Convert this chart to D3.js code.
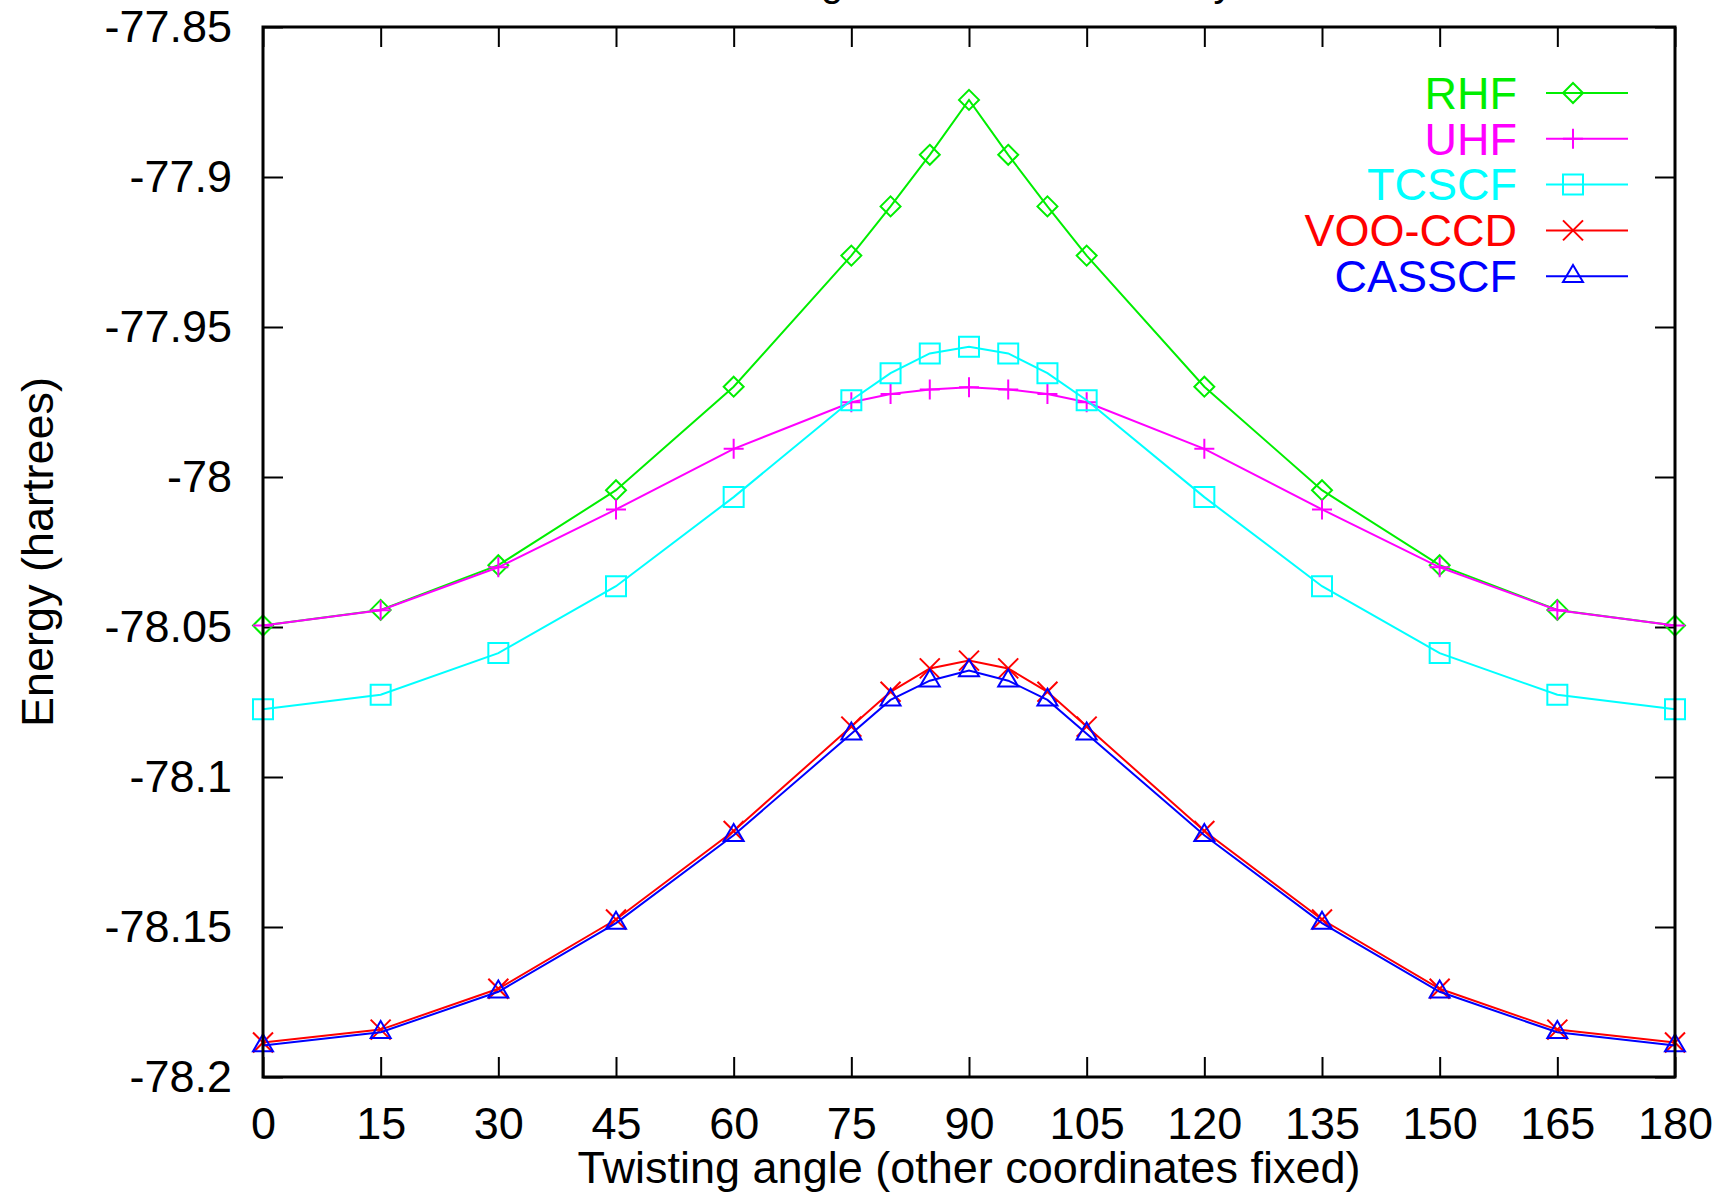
<!DOCTYPE html>
<html>
<head>
<meta charset="utf-8">
<script src="https://cdn.jsdelivr.net/npm/d3@7"></script>
<style>
  html, body { margin: 0; padding: 0; background: #fff; }
  svg { display: block; font-family: "Liberation Sans", Arial, sans-serif; }
</style>
</head>
<body>
<svg id="chart" width="1720" height="1195"></svg>
<script>
// twisting angle (degrees)
const angles = [0, 15, 30, 45, 60, 75, 80, 85, 90, 95, 100, 105, 120, 135, 150, 165, 180];

// energies in hartrees
const rhf   = [-78.0495, -78.0443, -78.0294, -78.0044, -77.9699, -77.9262, -77.9098, -77.8926, -77.8743,
               -77.8926, -77.9098, -77.9262, -77.9699, -78.0044, -78.0294, -78.0443, -78.0495];
const uhf   = [-78.0495, -78.0444, -78.0301, -78.0108, -77.9906, -77.9751, -77.9723, -77.9708, -77.9701,
               -77.9708, -77.9723, -77.9751, -77.9906, -78.0108, -78.0301, -78.0444, -78.0495];
const tcscf = [-78.0774, -78.0726, -78.0587, -78.0364, -78.0067, -77.9744, -77.9654, -77.9588, -77.9566,
               -77.9588, -77.9654, -77.9744, -78.0067, -78.0364, -78.0587, -78.0726, -78.0774];
const vooccd = [-78.1885, -78.1842, -78.1706, -78.1475, -78.1180, -78.0832, -78.0716, -78.0638, -78.0612,
                -78.0638, -78.0716, -78.0832, -78.1180, -78.1475, -78.1706, -78.1842, -78.1885];
const casscf = [-78.1895, -78.1851, -78.1716, -78.1487, -78.1194, -78.0856, -78.0743, -78.0679, -78.0645,
                -78.0679, -78.0743, -78.0856, -78.1194, -78.1487, -78.1716, -78.1851, -78.1895];

const seriesNames = ["RHF", "UHF", "TCSCF", "VOO-CCD", "CASSCF"];
const seriesColors = ["#00ee00", "#ff00ff", "#00ffff", "#ff0000", "#0000ff"];
const seriesMarkers = ["diamond", "plus", "square", "cross", "triangle"];

const xTicks = [0, 15, 30, 45, 60, 75, 90, 105, 120, 135, 150, 165, 180];
const yTicks = [-78.2, -78.15, -78.1, -78.05, -78, -77.95, -77.9, -77.85];
const yTickLabels = ["-78.2", "-78.15", "-78.1", "-78.05", "-78", "-77.95", "-77.9", "-77.85"];

const W = 1720, H = 1195;
const margin = {left: 263, right: 45, top: 27, bottom: 118};
const fontSize = 45;

const svg = d3.select('#chart');

const x = d3.scaleLinear().domain([0, 180]).range([margin.left, W - margin.right]);
const y = d3.scaleLinear().domain([-78.2, -77.85]).range([H - margin.bottom, margin.top]);

// marker shapes, s = half size
function markerPath(type, s) {
    switch (type) {
        case 'diamond': return `M0,${-s}L${s},0L0,${s}L${-s},0Z`;
        case 'plus': return `M${-s},0H${s}M0,${-s}V${s}`;
        case 'square': return `M${-s},${-s}H${s}V${s}H${-s}Z`;
        case 'cross': return `M${-s},${-s}L${s},${s}M${-s},${s}L${s},${-s}`;
        case 'triangle': return `M0,${-s * 1.13}L${s},${s * 0.57}L${-s},${s * 0.57}Z`;
    }
}

// title (the reference shows it cut off at the top of the page)
svg.append('text')
    .attr('x', 1004)
    .attr('y', -4)
    .attr('text-anchor', 'middle')
    .style('font-size', '40px')
    .text('Twisting the C=C bond of ethylene');

// axes: ticks drawn inward on all four sides
const xBottom = svg.append('g')
    .attr('transform', `translate(0,${H - margin.bottom})`)
    .call(d3.axisBottom(x).tickValues(xTicks).tickSize(-20).tickPadding(30).tickFormat(d3.format('d')));
const xTop = svg.append('g')
    .attr('transform', `translate(0,${margin.top})`)
    .call(d3.axisTop(x).tickValues(xTicks).tickSize(-20).tickFormat(''));
const yLeft = svg.append('g')
    .attr('transform', `translate(${margin.left},0)`)
    .call(d3.axisLeft(y).tickValues(yTicks).tickSize(-20).tickPadding(31)
        .tickFormat((d, i) => yTickLabels[i]));
const yRight = svg.append('g')
    .attr('transform', `translate(${W - margin.right},0)`)
    .call(d3.axisRight(y).tickValues(yTicks).tickSize(-20).tickFormat(''));

[xBottom, xTop, yLeft, yRight].forEach(function (g) {
    g.select('.domain').remove();
    g.selectAll('.tick line').attr('stroke', '#000').attr('stroke-width', 2);
    g.selectAll('.tick text')
        .attr('fill', '#000')
        .style('font-size', fontSize + 'px')
        .style('font-family', '"Liberation Sans", Arial, sans-serif');
});

// series
const allSeries = [rhf, uhf, tcscf, vooccd, casscf];
const line = d3.line().x(d => x(d[0])).y(d => y(d[1]));

allSeries.forEach(function (vals, si) {
    const pts = angles.map((a, i) => [a, vals[i]]);
    const g = svg.append('g').attr('class', 'series');
    g.append('path')
        .datum(pts)
        .attr('d', line)
        .attr('fill', 'none')
        .attr('stroke', seriesColors[si])
        .attr('stroke-width', 2);
    g.selectAll('path.pt')
        .data(pts)
        .enter()
        .append('path')
        .classed('pt', true)
        .attr('transform', d => `translate(${x(d[0])},${y(d[1])})`)
        .attr('d', markerPath(seriesMarkers[si], 10))
        .attr('fill', 'none')
        .attr('stroke', seriesColors[si])
        .attr('stroke-width', 2);
});

// frame
svg.append('rect')
    .attr('x', margin.left)
    .attr('y', margin.top)
    .attr('width', W - margin.right - margin.left)
    .attr('height', H - margin.bottom - margin.top)
    .attr('fill', 'none')
    .attr('stroke', '#000')
    .attr('stroke-width', 3);

// legend
const legend = svg.append('g');
seriesNames.forEach(function (name, i) {
    const cy = 93 + i * 45.8;
    legend.append('text')
        .attr('x', 1517)
        .attr('y', cy)
        .attr('dy', '0.35em')
        .attr('text-anchor', 'end')
        .attr('fill', seriesColors[i])
        .style('font-size', fontSize + 'px')
        .text(name);
    legend.append('line')
        .attr('x1', 1546).attr('x2', 1628)
        .attr('y1', cy).attr('y2', cy)
        .attr('stroke', seriesColors[i])
        .attr('stroke-width', 2);
    legend.append('path')
        .attr('transform', `translate(1573,${cy})`)
        .attr('d', markerPath(seriesMarkers[i], 10))
        .attr('fill', 'none')
        .attr('stroke', seriesColors[i])
        .attr('stroke-width', 2);
});

// axis titles
svg.append('text')
    .attr('x', (margin.left + W - margin.right) / 2)
    .attr('y', 1183)
    .attr('text-anchor', 'middle')
    .style('font-size', fontSize + 'px')
    .text('Twisting angle (other coordinates fixed)');

svg.append('text')
    .attr('transform', `translate(53,${(margin.top + H - margin.bottom) / 2}) rotate(-90)`)
    .attr('text-anchor', 'middle')
    .style('font-size', fontSize + 'px')
    .text('Energy (hartrees)');
</script>
</body>
</html>
